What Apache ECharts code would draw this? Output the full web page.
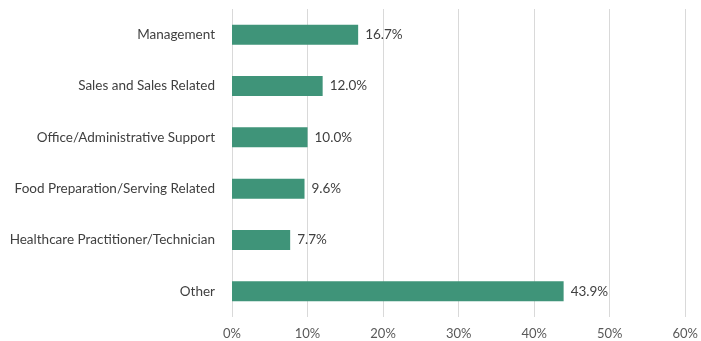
<!DOCTYPE html>
<html>
<head>
<meta charset="utf-8">
<script src="https://cdn.jsdelivr.net/npm/echarts@6/dist/echarts.min.js"></script>
<style>
    html, body { margin: 0; padding: 0; background: #fff; }
    #chart { width: 701px; height: 341px; }
</style>
</head>
<body>
<div id="chart"></div>
<script>
// 数据
const categories = [
    'Management',
    'Sales and Sales Related',
    'Office/Administrative Support',
    'Food Preparation/Serving Related',
    'Healthcare Practitioner/Technician',
    'Other'
];
const shares = [16.7, 12.0, 10.0, 9.6, 7.7, 43.9];
const xTicks = [0, 10, 20, 30, 40, 50, 60];

const chart = echarts.init(document.getElementById('chart'));

chart.setOption({
    animation: false,
    grid: {
        left: 232,
        right: 14,
        top: 9,
        bottom: 24
    },
    xAxis: {
        type: 'value',
        min: xTicks[0],
        max: xTicks[xTicks.length - 1],
        interval: 10,
        axisLine: { show: false },
        axisTick: { show: false },
        splitLine: {
            lineStyle: { color: '#d9d9d9', width: 1 }
        },
        axisLabel: {
            margin: 10,
            color: '#595959',
            fontFamily: 'Lato',
            fontSize: 13,
            formatter: v => v + '%'
        }
    },
    yAxis: {
        type: 'category',
        inverse: true,
        data: categories,
        axisLine: { show: false },
        axisTick: { show: false },
        axisLabel: {
            margin: 17,
            color: '#404040',
            fontFamily: 'Lato',
            fontSize: 13.5
        }
    },
    series: [{
        type: 'bar',
        data: shares,
        barWidth: 20,
        itemStyle: { color: '#3f9479' },
        label: {
            show: true,
            position: 'right',
            distance: 7,
            color: '#404040',
            fontFamily: 'Lato',
            fontSize: 13.5,
            formatter: p => p.value.toFixed(1) + '%'
        }
    }]
});
</script>
</body>
</html>
